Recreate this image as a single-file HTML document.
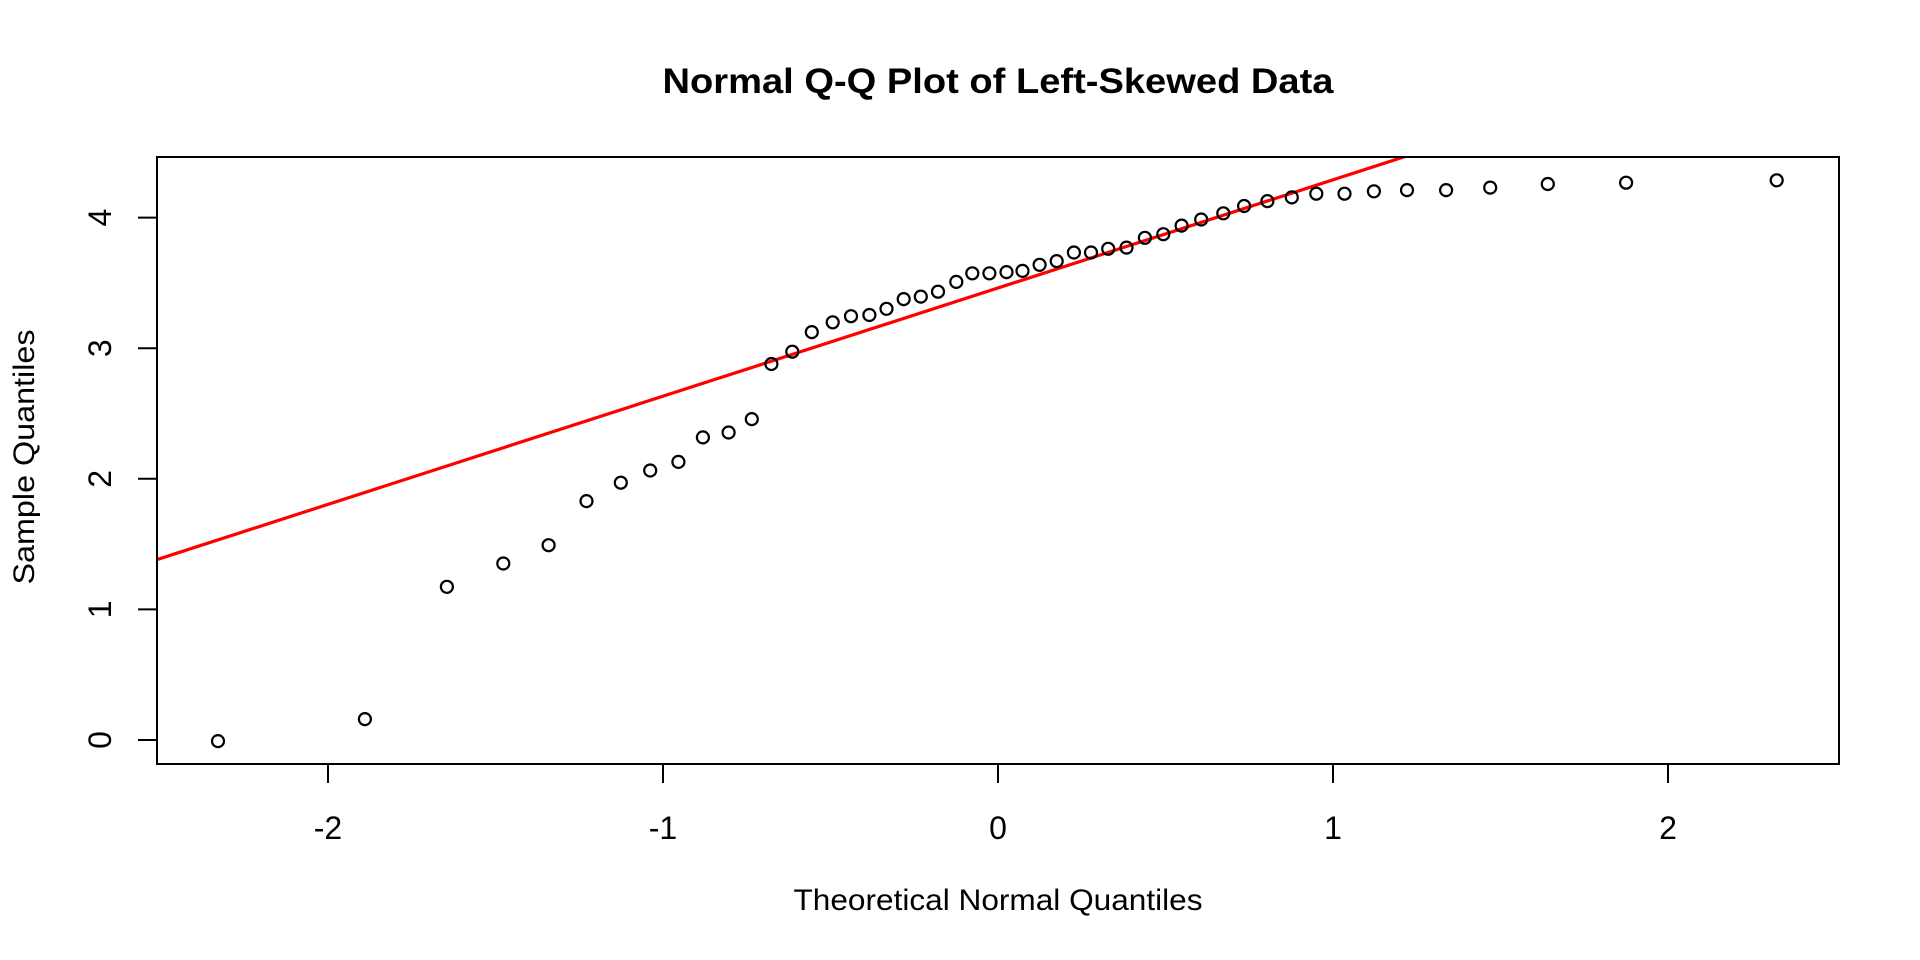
<!DOCTYPE html>
<html><head><meta charset="utf-8"><style>html,body{margin:0;padding:0;background:#fff;}svg{display:block}</style></head>
<body>
<svg id="s" width="1920" height="960" xmlns="http://www.w3.org/2000/svg" font-family="'Liberation Sans', Arial, sans-serif">
<rect width="1920" height="960" fill="#fff"/>
<text x="998" y="93" font-size="35" font-weight="bold" text-anchor="middle" textLength="671" lengthAdjust="spacingAndGlyphs">Normal Q-Q Plot of Left-Skewed Data</text>
<defs><clipPath id="c"><rect x="157" y="157" width="1682" height="607"/></clipPath></defs>
<line x1="157" y1="559.6" x2="1404.5" y2="156.7" stroke="#ff0000" stroke-width="3.2" clip-path="url(#c)"/>
<g id="pts" fill="none" stroke="#000" stroke-width="2.2"></g>
<rect x="157" y="157" width="1682" height="607" fill="none" stroke="#000" stroke-width="2"/>
<g stroke="#000" stroke-width="2">
<line x1="328" y1="764" x2="328" y2="783"/>
<line x1="663" y1="764" x2="663" y2="783"/>
<line x1="998" y1="764" x2="998" y2="783"/>
<line x1="1333" y1="764" x2="1333" y2="783"/>
<line x1="1668" y1="764" x2="1668" y2="783"/>
<line x1="138" y1="740" x2="157" y2="740"/>
<line x1="138" y1="609.4" x2="157" y2="609.4"/>
<line x1="138" y1="478.8" x2="157" y2="478.8"/>
<line x1="138" y1="348.2" x2="157" y2="348.2"/>
<line x1="138" y1="217.6" x2="157" y2="217.6"/>
</g>
<g font-size="32" text-anchor="middle">
<text x="328" y="839">-2</text>
<text x="663" y="839">-1</text>
<text x="998" y="839">0</text>
<text x="1333" y="839">1</text>
<text x="1668" y="839">2</text>
<text transform="translate(111,740) rotate(-90)">0</text>
<text transform="translate(111,609.4) rotate(-90)">1</text>
<text transform="translate(111,478.8) rotate(-90)">2</text>
<text transform="translate(111,348.2) rotate(-90)">3</text>
<text transform="translate(111,217.6) rotate(-90)">4</text>
</g>
<g font-size="30" text-anchor="middle">
<text x="998" y="910" textLength="409" lengthAdjust="spacingAndGlyphs">Theoretical Normal Quantiles</text>
<text transform="translate(34,457) rotate(-90)" textLength="255" lengthAdjust="spacingAndGlyphs">Sample Quantiles</text>
</g>
</svg>
<script>
var d=[[178,604],[298,586],[365,478],[411,459],[448,444],[479,408],[507,393],[531,383],[554,376],[574,356],[595,352],[614,341],[630,296],[647,286],[663,270],[680,262],[695,257],[710,256],[724,251],[738,243],[752,241],[766,237],[781,229],[794,222],[808,222],[822,221],[835,220],[849,215],[863,212],[877,205],[891,205],[905,202],[920,201],[935,193],[950,190],[965,183],[981,178],[999,173],[1016,167],[1035,163],[1055,160],[1075,157],[1098,157],[1122,155],[1149,154],[1181,154],[1217,152],[1264,149],[1328,148],[1451,146]];
var g=document.getElementById('pts'),k=1.2245,h='';
d.forEach(function(p){h+='<circle cx="'+(p[0]*k).toFixed(1)+'" cy="'+(p[1]*k+1.5).toFixed(1)+'" r="6"/>';});
g.innerHTML=h;
</script>
</body></html>
